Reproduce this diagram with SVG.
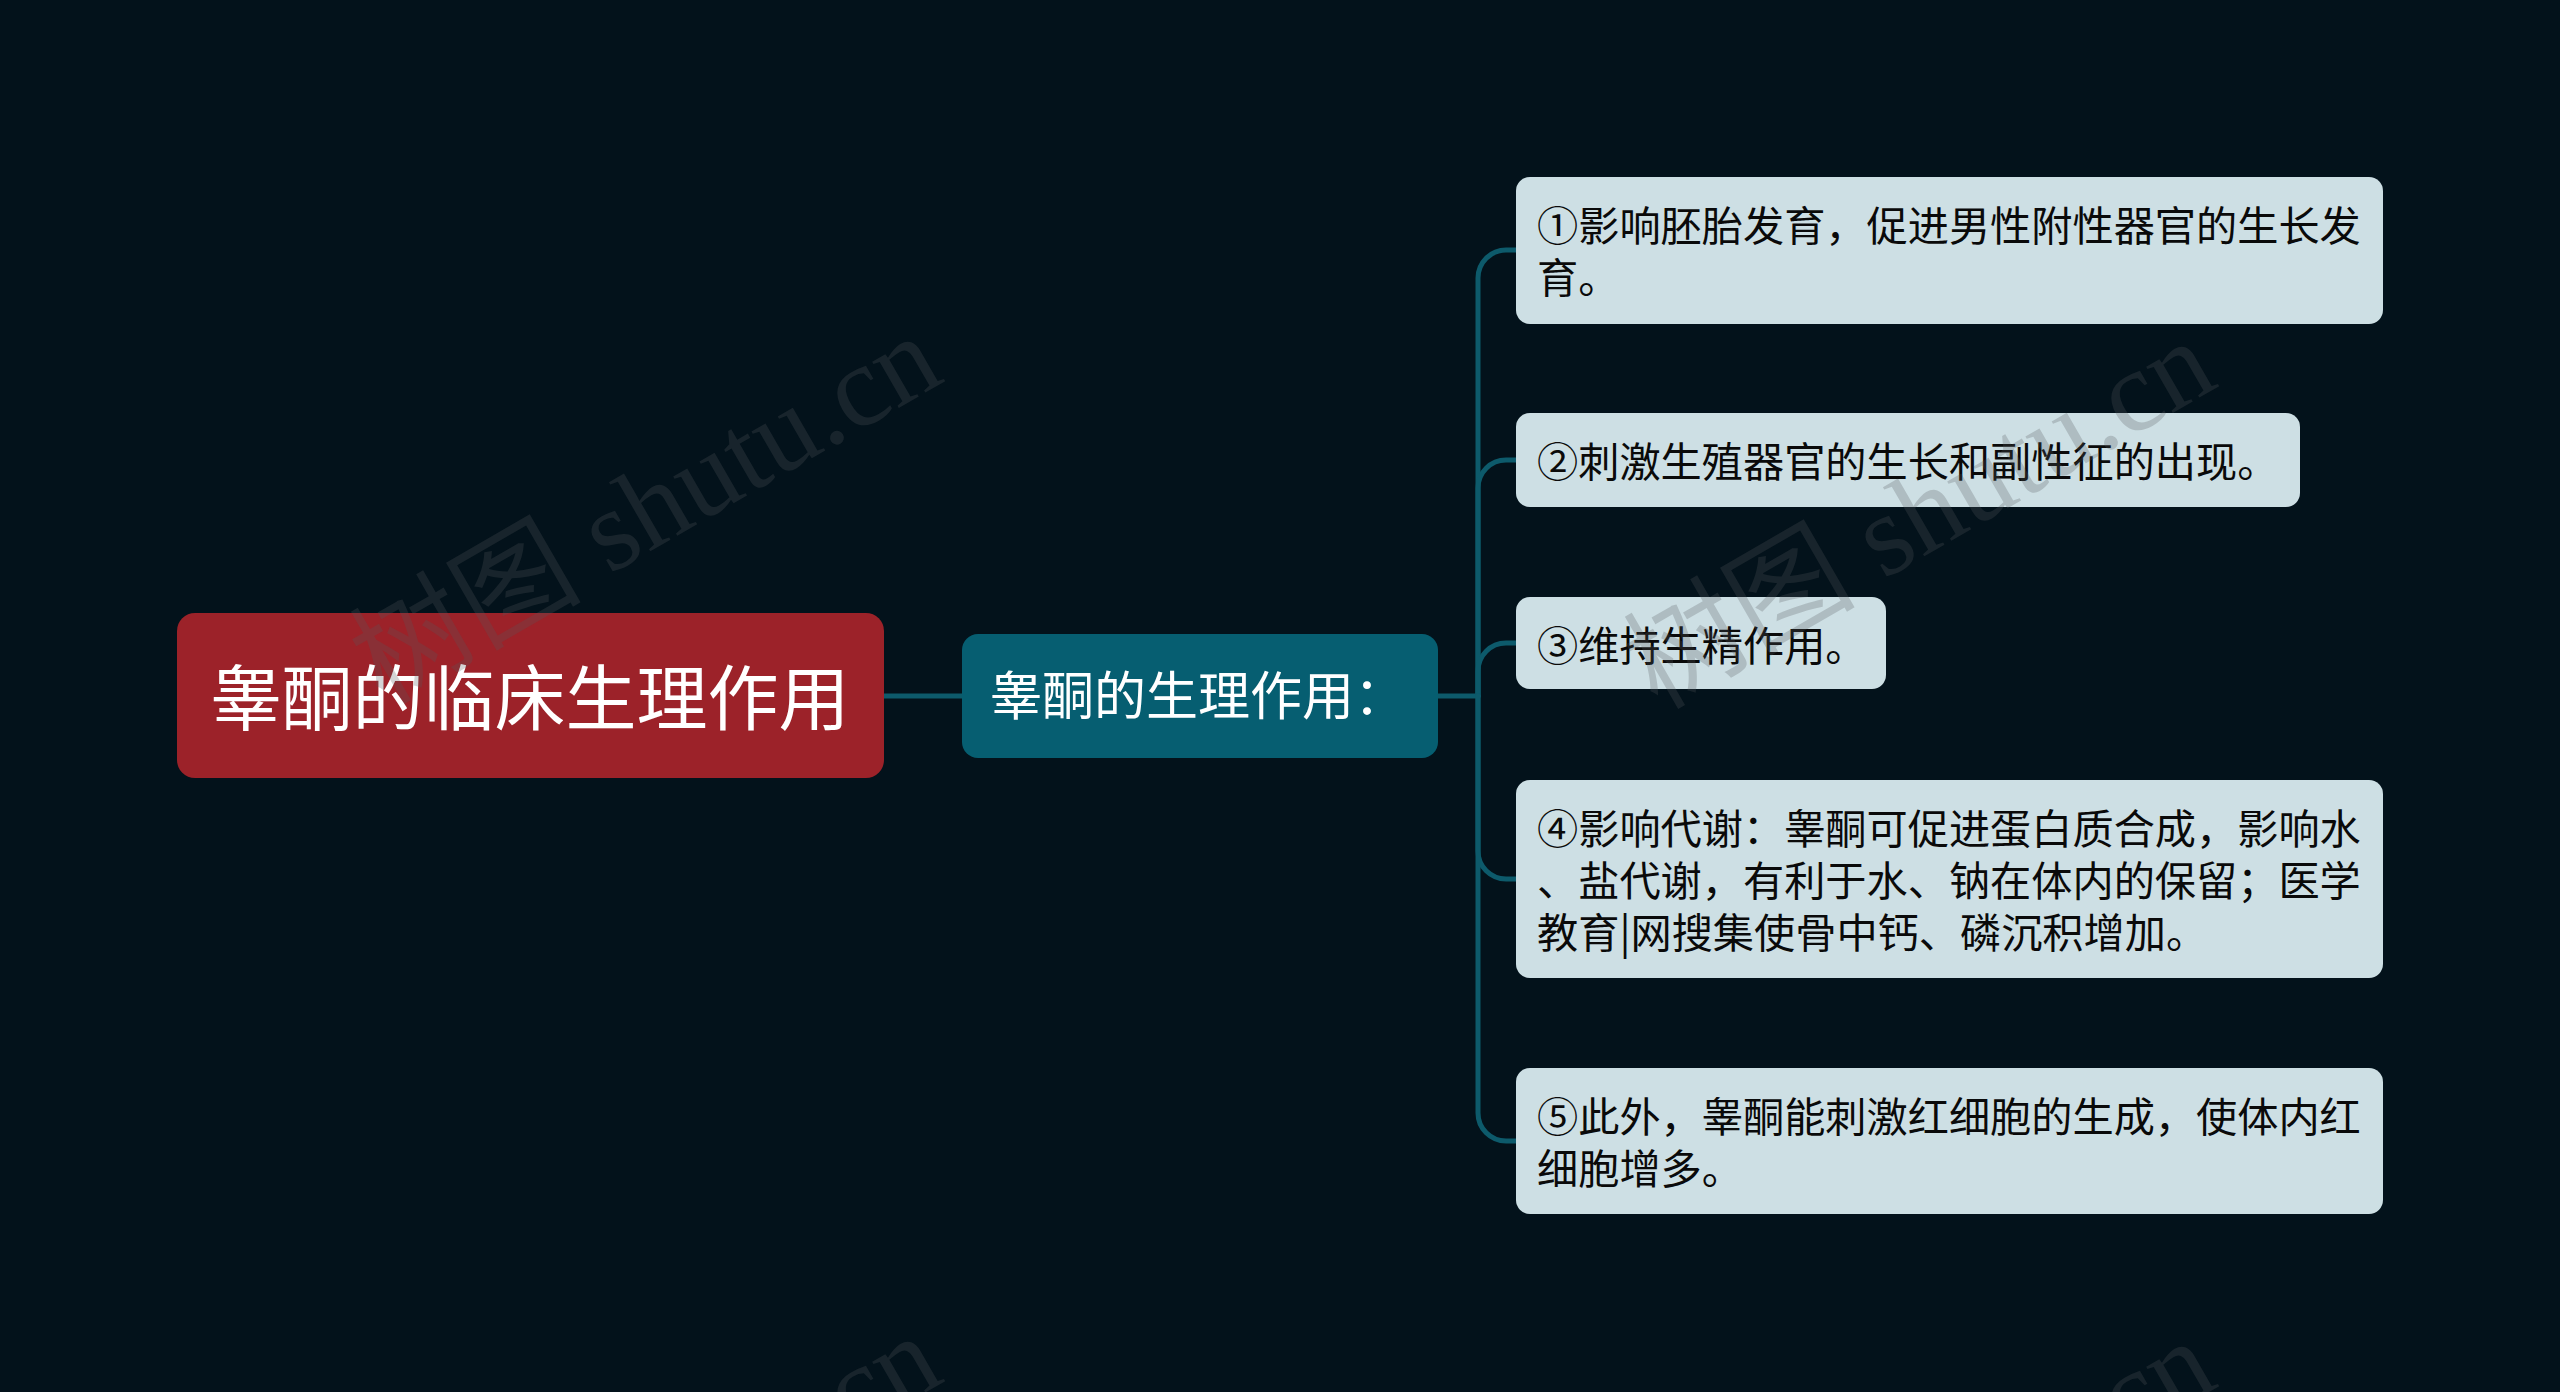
<svg xmlns="http://www.w3.org/2000/svg" width="2560" height="1392" viewBox="0 0 2560 1392">
<style>
.bg{fill:#03121b}
.conn{fill:none;stroke:#0d5a6b;stroke-width:5;stroke-linecap:round}
.root rect{fill:#9c2229}
.mid rect{fill:#065e71}
.leaf rect{fill:#cddfe4}
.t{font-family:"Noto Sans CJK SC","Noto Sans",sans-serif}
.root text{fill:#ffffff;font-size:71px}
.mid text{fill:#ffffff;font-size:52px}
.leaf text{fill:#0a0a0a;font-size:41.2px}
.wm{font-family:"Liberation Serif","Noto Sans CJK SC",serif;font-size:116px;fill:#555a5c;fill-opacity:0.26}
</style>
<rect class="bg" x="0" y="0" width="2560" height="1392"/>
<g id="connectors">
<path class="conn" d="M884 696 H962"/>
<path class="conn" d="M1438 696 H1478"/>
<path class="conn" d="M1478 696 V278 A28 28 0 0 1 1506 250 H1516"/>
<path class="conn" d="M1478 696 V488 A28 28 0 0 1 1506 460 H1516"/>
<path class="conn" d="M1478 696 V671 A28 28 0 0 1 1506 643 H1516"/>
<path class="conn" d="M1478 696 V851 A28 28 0 0 0 1506 879 H1516"/>
<path class="conn" d="M1478 696 V1113 A28 28 0 0 0 1506 1141 H1516"/>
</g>
<g id="node-root" class="root">
<rect x="177" y="613" width="707" height="165" rx="18"/>
<text class="t" x="530" y="724" text-anchor="middle">睾酮的临床生理作用</text>
</g>
<g id="node-mid" class="mid">
<rect x="962" y="634" width="476" height="124" rx="16"/>
<text class="t" x="1198" y="715" text-anchor="middle">睾酮的生理作用：</text>
</g>
<g id="node-leaf1" class="leaf">
<rect x="1516" y="177" width="867" height="147" rx="14"/>
<text class="t" x="1537" y="241">①影响胚胎发育，促进男性附性器官的生长发</text>
<text class="t" x="1537" y="293">育。</text>
</g>
<g id="node-leaf2" class="leaf">
<rect x="1516" y="413" width="784" height="94" rx="14"/>
<text class="t" x="1537" y="477">②刺激生殖器官的生长和副性征的出现。</text>
</g>
<g id="node-leaf3" class="leaf">
<rect x="1516" y="597" width="370" height="92" rx="14"/>
<text class="t" x="1537" y="661">③维持生精作用。</text>
</g>
<g id="node-leaf4" class="leaf">
<rect x="1516" y="780" width="867" height="198" rx="14"/>
<text class="t" x="1537" y="844">④影响代谢：睾酮可促进蛋白质合成，影响水</text>
<text class="t" x="1537" y="896">、盐代谢，有利于水、钠在体内的保留；医学</text>
<text class="t" x="1537" y="948">教育|网搜集使骨中钙、磷沉积增加。</text>
</g>
<g id="node-leaf5" class="leaf">
<rect x="1516" y="1068" width="867" height="146" rx="14"/>
<text class="t" x="1537" y="1132">⑤此外，睾酮能刺激红细胞的生成，使体内红</text>
<text class="t" x="1537" y="1184">细胞增多。</text>
</g>
<g id="watermarks">
<text class="wm" transform="translate(646 510) rotate(-30)" x="0" y="38" text-anchor="middle">树图 shutu.cn</text>
<text class="wm" transform="translate(1920 515) rotate(-30)" x="0" y="38" text-anchor="middle">树图 shutu.cn</text>
<text class="wm" transform="translate(646 1510) rotate(-30)" x="0" y="38" text-anchor="middle">树图 shutu.cn</text>
<text class="wm" transform="translate(1920 1515) rotate(-30)" x="0" y="38" text-anchor="middle">树图 shutu.cn</text>
</g>
</svg>
